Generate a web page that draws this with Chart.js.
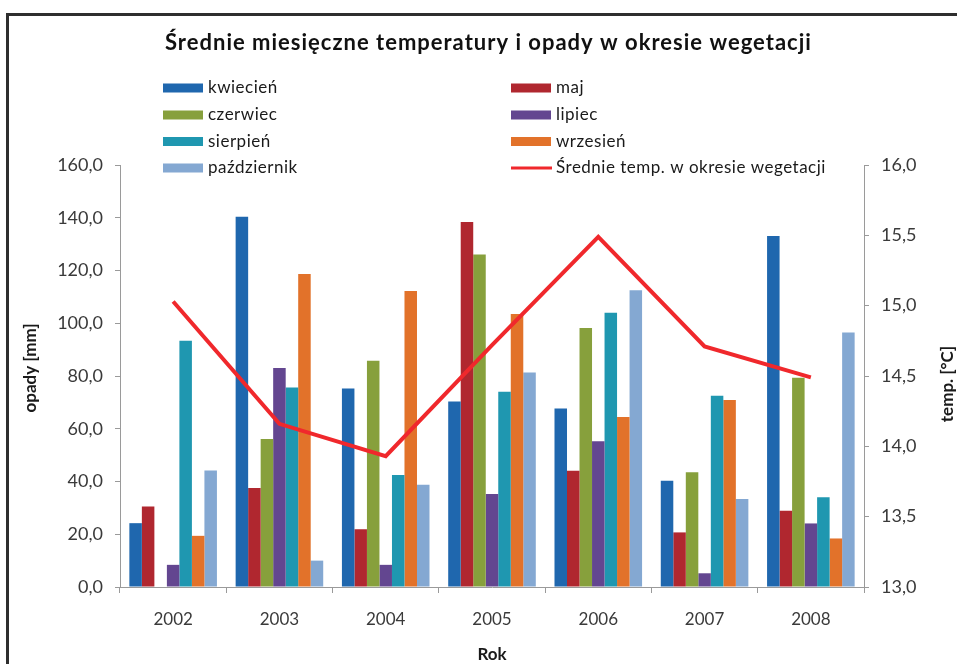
<!DOCTYPE html>
<html><head><meta charset="utf-8">
<script src="https://cdn.jsdelivr.net/npm/chart.js@4/dist/chart.umd.min.js"></script>
<style>html,body{margin:0;padding:0;background:#fff;}</style>
</head><body>
<canvas id="c" width="957" height="664"></canvas>
<script>
// ---- data ----
const years = ['2002', '2003', '2004', '2005', '2006', '2007', '2008'];
const kwiecien    = [24.2, 140.4, 75.3, 70.3, 67.7, 40.3, 133.1];
const maj         = [30.5, 37.5, 21.9, 138.4, 44.1, 20.7, 28.9];
const czerwiec    = [null, 56.1, 85.8, 126.1, 98.2, 43.5, 79.3];
const lipiec      = [8.4, 83.0, 8.4, 35.3, 55.3, 5.2, 24.1];
const sierpien    = [93.4, 75.6, 42.5, 74.0, 104.0, 72.5, 34.0];
const wrzesien    = [19.4, 118.7, 112.2, 103.5, 64.5, 70.9, 18.4];
const pazdziernik = [44.2, 10.0, 38.8, 81.3, 112.5, 33.4, 96.5];
const sredniaTemp = [15.03, 14.16, 13.93, 14.72, 15.49, 14.71, 14.49];

const seriesLabels = ['kwiecień', 'maj', 'czerwiec', 'lipiec', 'sierpień', 'wrzesień', 'październik'];
const lineLabel = 'Średnie temp. w okresie wegetacji';
const chartTitle = 'Średnie miesięczne temperatury i opady w okresie wegetacji';
const yTitle = 'opady [mm]';
const y1Title = 'temp. [°C]';
const xTitle = 'Rok';

const colors = ['#1F67AE', '#B0272F', '#87A03C', '#634690', '#1F97B0', '#E2722A', '#84A8D2'];
const lineColor = '#F0282C';
const FONT = 'Lato';
const TXT = '#3a3a3a';

const barSeries = [kwiecien, maj, czerwiec, lipiec, sierpien, wrzesien, pazdziernik];
const datasets = barSeries.map((d, i) => ({
  type: 'bar', label: seriesLabels[i], data: d, backgroundColor: colors[i],
  yAxisID: 'y', order: 1, categoryPercentage: 0.824, barPercentage: 1.0
}));
datasets.push({
  type: 'line', label: lineLabel, data: sredniaTemp, borderColor: lineColor,
  backgroundColor: lineColor, borderWidth: 4, pointRadius: 0, tension: 0,
  yAxisID: 'y1', order: 0
});

const fmt = v => Number(v).toFixed(1).replace('.', ',');

const deco = {
  id: 'deco',
  beforeDraw(chart) {
    const c = chart.ctx;
    c.save();
    c.fillStyle = '#ffffff';
    c.fillRect(0, 0, chart.width, chart.height);
    c.strokeStyle = '#2e2e2e';
    c.lineWidth = 3;
    c.strokeRect(7.5, 14.5, 1000, 700);
    c.restore();
  },
  afterDraw(chart) {
    const c = chart.ctx;
    c.save();
    c.fillStyle = '#111';
    c.textAlign = 'left';
    c.textBaseline = 'middle';
    c.font = `bold 22px ${FONT}`;
    c.letterSpacing = '1px';
    c.fillText(chartTitle, 165, 43);

    // legend
    c.font = `17px ${FONT}`;
    c.letterSpacing = '0.5px';
    const colX = [163, 511], rowY = [88, 115, 141.5, 168];
    chart.data.datasets.forEach((ds, i) => {
      const x = colX[i % 2], y = rowY[Math.floor(i / 2)];
      if (ds.type === 'line') {
        c.strokeStyle = ds.borderColor; c.lineWidth = 3;
        c.beginPath(); c.moveTo(x, y); c.lineTo(x + 41, y); c.stroke();
      } else {
        c.fillStyle = ds.backgroundColor;
        c.fillRect(x, y - 4.5, 40, 9);
      }
      c.fillStyle = '#1a1a1a';
      c.fillText(ds.label, x + 45, y);
    });

    // axis titles
    c.letterSpacing = '0px';
    c.font = `bold 17px ${FONT}`;
    c.fillStyle = '#1a1a1a';
    c.textAlign = 'center';
    c.fillText(xTitle, 492, 655);
    c.save(); c.translate(31, 368); c.rotate(-Math.PI / 2); c.fillText(yTitle, 0, 0); c.restore();
    c.save(); c.translate(948, 384); c.rotate(-Math.PI / 2); c.fillText(y1Title, 0, 0); c.restore();
    c.restore();
  }
};

const axisColor = '#9a9a9a';
new Chart(document.getElementById('c'), {
  data: { labels: years, datasets },
  options: {
    responsive: false, animation: false,
    layout: { padding: { top: 165, left: 0, right: 0, bottom: 0 } },
    plugins: { legend: { display: false }, tooltip: { enabled: false } },
    scales: {
      x: {
        offset: true,
        grid: { display: true, drawOnChartArea: false, drawTicks: true, tickLength: 6, color: axisColor, offset: true },
        border: { color: axisColor, width: 1 },
        ticks: { font: { family: FONT, size: 17 }, color: TXT, padding: 16 },
        afterFit(s) { s.height = 664 - 587; }
      },
      y: {
        position: 'left', min: 0, max: 160,
        grid: { display: true, drawOnChartArea: false, tickLength: 5, color: axisColor },
        border: { color: axisColor, width: 1 },
        ticks: { stepSize: 20, callback: fmt, font: { family: FONT, size: 18 }, color: TXT, padding: 12 },
        afterFit(s) { s.width = 120; }
      },
      y1: {
        position: 'right', min: 13, max: 16,
        grid: { display: true, drawOnChartArea: false, tickLength: 5, color: axisColor },
        border: { color: axisColor, width: 1 },
        ticks: { stepSize: 0.5, callback: fmt, font: { family: FONT, size: 18 }, color: TXT, padding: 12 },
        afterFit(s) { s.width = 957 - 864; }
      }
    }
  },
  plugins: [deco]
});
</script>
</body></html>
